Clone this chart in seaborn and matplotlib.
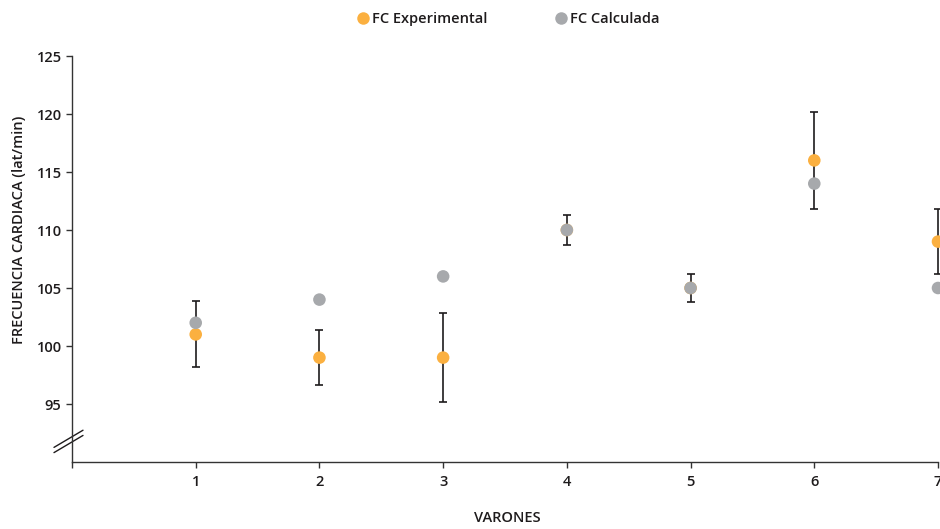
import matplotlib
matplotlib.use("Agg")
import matplotlib.pyplot as plt
import matplotlib.transforms as mtransforms
import seaborn as sns
import pandas as pd
from matplotlib.lines import Line2D

# ---- data ----
varones = [1, 2, 3, 4, 5, 6, 7]
fc_experimental = [101, 99, 99, 110, 105, 116, 109]
fc_experimental_sd = [2.85, 2.4, 3.85, 1.33, 1.24, 4.2, 2.8]
fc_calculada = [102, 104, 106, 110, 105, 114, 105]
series_names = ["FC Experimental", "FC Calculada"]
y_ticks = [95, 100, 105, 110, 115, 120, 125]
x_ticks = [0, 1, 2, 3, 4, 5, 6, 7]
x_tick_labels = ["", "1", "2", "3", "4", "5", "6", "7"]

orange = "#FBB040"
grey = "#A7A9AC"
ink = "#1E1B1C"

sns.set_theme(style="white")
plt.rcParams["font.family"] = ["Open Sans", "DejaVu Sans"]
plt.rcParams["font.weight"] = "semibold"
plt.rcParams["axes.labelweight"] = "semibold"

fig = plt.figure(figsize=(9.4, 5.29), dpi=100)
ax = fig.add_axes([72 / 940, 1 - 462 / 529, 866 / 940, 406 / 529])

df = pd.DataFrame({
    "x": varones * 2,
    "y": fc_experimental + fc_calculada,
    "serie": [series_names[0]] * len(varones) + [series_names[1]] * len(varones),
})

# error bars (experimental)
ax.errorbar(varones, fc_experimental, yerr=fc_experimental_sd, fmt="none",
            ecolor=ink, elinewidth=1.2, capsize=3.2, capthick=1.2, zorder=1,
            clip_on=False)

sns.scatterplot(data=df, x="x", y="y", hue="serie",
                palette={series_names[0]: orange, series_names[1]: grey},
                hue_order=series_names, s=82, edgecolor="none", linewidth=0,
                legend=False, ax=ax, zorder=3, clip_on=False)

ax.set_xlim(0, 7)
ax.set_ylim(90, 125)
ax.set_yticks(y_ticks)
ax.set_xticks(x_ticks)
ax.set_xticklabels(x_tick_labels)

for s in ["top", "right"]:
    ax.spines[s].set_visible(False)
for s in ["left", "bottom"]:
    ax.spines[s].set_color("#333333")
    ax.spines[s].set_linewidth(1.0)

ax.tick_params(axis="both", which="both", direction="out", length=4.5, width=1.0,
               color="#333333", labelsize=10.5, labelcolor=ink)
ax.tick_params(axis="y", pad=3, left=True)
ax.tick_params(axis="x", pad=5, bottom=True)

ax.set_xlabel("VARONES", fontsize=10.5, color=ink, fontweight="semibold")
ax.set_ylabel("FRECUENCIA CARDIACA (lat/min)", fontsize=10.5, color=ink,
              fontweight="semibold")
ax.xaxis.set_label_coords(0.503, -0.12)
ax.yaxis.set_label_coords(-0.053, 0.571)

# axis break marks
trans = mtransforms.blended_transform_factory(ax.transAxes, ax.transData)
for dy in (0.0, -0.45):
    ax.plot([-0.0208, 0.0127], [91.26 + dy, 92.74 + dy], color=ink, lw=1.0,
            transform=trans, clip_on=False)

handles = [
    Line2D([0], [0], marker="o", color="none", markerfacecolor=orange,
           markeredgecolor="none", markersize=9, label=series_names[0]),
    Line2D([0], [0], marker="o", color="none", markerfacecolor=grey,
           markeredgecolor="none", markersize=9, label=series_names[1]),
]
fig.legend(handles=handles, loc="center", bbox_to_anchor=(509 / 940, 1 - 19 / 529),
           ncol=2, frameon=False, fontsize=10.5, handlelength=0.6,
           handletextpad=0.35, columnspacing=4.7, labelcolor=ink)

fig.savefig("out.png", dpi=100)
